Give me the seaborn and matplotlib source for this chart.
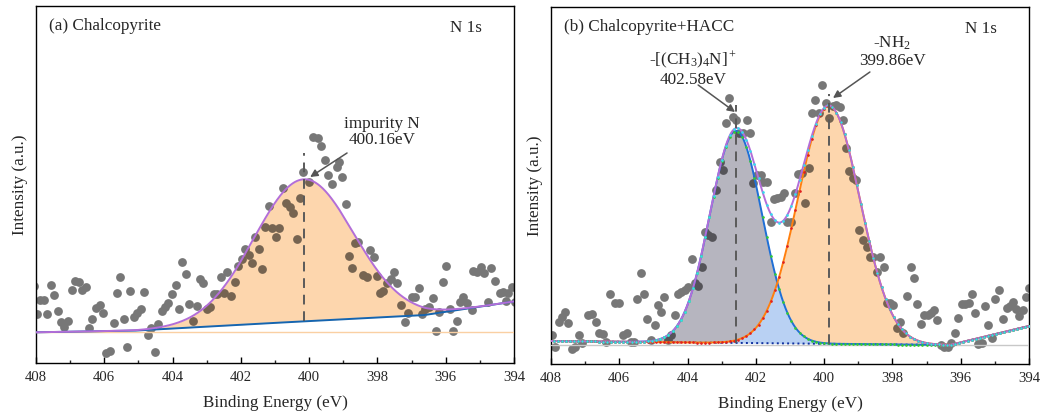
import numpy as np
import pandas as pd
import matplotlib
matplotlib.use("Agg")
import matplotlib.pyplot as plt
from matplotlib.path import Path
from matplotlib.colors import to_rgb
from matplotlib.ticker import MultipleLocator
import seaborn as sns

# ---------------- measured N 1s spectra ----------------
# (a) Chalcopyrite
energy_a = [408.05, 407.98, 407.88, 407.77, 407.69, 407.57, 407.47, 407.37, 407.27, 407.17,
            407.07, 406.96, 406.86, 406.74, 406.64, 406.55, 406.45, 406.35, 406.25, 406.14,
            406.05, 405.95, 405.83, 405.73, 405.64, 405.54, 405.43, 405.33, 405.24, 405.13,
            405.03, 404.93, 404.83, 404.73, 404.63, 404.51, 404.42, 404.32, 404.22, 404.12,
            404.01, 403.91, 403.81, 403.71, 403.62, 403.51, 403.41, 403.29, 403.20, 403.10,
            403.00, 402.89, 402.80, 402.70, 402.59, 402.49, 402.40, 402.29, 402.17, 402.07,
            401.98, 401.88, 401.77, 401.68, 401.58, 401.47, 401.37, 401.28, 401.18, 401.08,
            400.97, 400.87,
            400.76, 400.68, 400.56, 400.46, 400.35, 400.27, 400.17, 399.99, 399.88, 399.73,
            399.66, 399.54, 399.44, 399.34, 399.19, 399.12, 399.05, 398.92, 398.82, 398.75,
            398.66, 398.56, 398.43, 398.31, 398.22, 398.10, 398.02, 397.92, 397.83, 397.71,
            397.61, 397.51, 397.42, 397.32, 397.20, 397.10, 397.00, 396.89, 396.78, 396.69,
            396.60, 396.48, 396.38, 396.28, 396.19, 396.09, 395.99, 395.87, 395.79, 395.68,
            395.58, 395.48, 395.38, 395.24, 395.19, 395.09, 394.97, 394.87, 394.75, 394.67,
            394.56, 394.41, 394.33, 394.23, 394.17, 394.07, 393.97, 393.87]
counts_a = [77.0, 48.7, 63.0, 63.0, 48.7, 78.0, 68.0, 52.3, 41.3, 36.3,
            42.0, 73.0, 82.0, 81.3, 73.0, 76.3, 34.7, 44.0, 54.7, 58.0,
            49.7, 9.7, 12.3, 40.3, 69.7, 86.3, 43.7, 15.7, 72.3, 46.3,
            49.7, 54.0, 71.3, 28.0, 34.7, 11.3, 38.7, 52.0, 55.7, 60.3,
            68.7, 78.0, 53.7, 101.3, 88.7, 59.0, 42.0, 57.3, 84.0, 80.3,
            54.0, 55.7, 69.0, 69.3, 86.3, 69.7, 90.7, 67.3, 81.3, 97.0,
            104.0, 114.0, 108.0, 100.3, 126.3, 114.0, 94.0, 136.3, 157.3, 134.7,
            125.7, 134.7,
            174.7, 159.7, 155.7, 149.7, 124.0, 165.3, 191.3, 181.3, 226.3, 224.7,
            217.0, 203.0, 188.0, 179.0, 196.3, 201.3, 185.7, 159.0, 107.3, 94.7,
            119.7, 121.3, 88.0, 86.3, 113.0, 105.7, 87.3, 69.7, 72.3, 79.7,
            84.0, 91.3, 79.7, 58.0, 41.3, 49.7, 66.3, 66.3, 74.7, 49.0,
            53.7, 56.3, 64.7, 32.3, 51.3, 81.3, 97.0, 53.7, 32.0, 42.0,
            61.3, 66.3, 59.7, 53.0, 92.0, 91.3, 95.7, 89.7, 60.7, 94.7,
            82.3, 69.7, 71.3, 62.3, 69.7, 76.3, 61.3, 88.0]

# (b) Chalcopyrite + HACC
energy_b = [407.98, 407.88, 407.76, 407.69, 407.59, 407.49, 407.39, 407.30, 407.18, 407.08,
            406.91, 406.81, 406.68, 406.58, 406.49, 406.39, 406.27, 406.13, 406.00, 405.88,
            405.78, 405.66, 405.57, 405.49, 405.37, 405.28, 405.18, 405.08, 404.96, 404.88,
            404.79, 404.69, 404.57, 404.49, 404.38, 404.28, 404.18, 404.08, 403.99, 403.88,
            403.78, 403.68, 403.59, 403.49, 403.39, 403.29, 403.17, 403.05, 402.95, 402.87,
            402.78, 402.68, 402.58, 402.48, 402.38, 402.27, 402.17, 402.07, 401.96, 401.86,
            401.78, 401.68, 401.56, 401.47, 401.37, 401.27, 401.17, 401.08, 400.98, 400.86,
            400.76, 400.65, 400.55, 400.45, 400.35, 400.26, 400.14, 400.06, 399.94, 399.85,
            399.75, 399.65, 399.55, 399.46, 399.36, 399.26, 399.16, 399.06, 398.97, 398.87,
            398.75, 398.67, 398.58, 398.46, 398.36, 398.26, 398.17, 398.07, 397.97, 397.87,
            397.78, 397.68, 397.56, 397.46, 397.37, 397.27, 397.17, 397.07, 396.97, 396.88,
            396.78, 396.68, 396.58, 396.49, 396.37, 396.27, 396.16, 396.07, 395.97, 395.87,
            395.77, 395.68, 395.58, 395.48, 395.38, 395.28, 395.19, 395.09, 394.99, 394.88,
            394.76, 394.65, 394.55, 394.48, 394.39, 394.29, 394.19, 394.10, 394.00]
counts_b = [29.0, 17.3, 42.3, 47.3, 52.3, 41.3, 15.0, 17.3, 29.0, 20.7,
            49.0, 50.0, 42.3, 30.7, 30.0, 22.3, 69.7, 60.7, 61.3, 29.0,
            30.7, 22.3, 22.3, 64.7, 91.3, 70.0, 44.7, 24.0, 39.0, 59.0,
            52.3, 67.3, 24.0, 29.0, 49.0, 70.0, 72.3, 74.0, 77.3, 104.7,
            80.7, 78.0, 97.3, 132.3, 129.0, 127.3, 174.0, 202.3, 194.0, 240.7,
            266.3, 247.3, 244.0, 230.7, 230.7, 244.0, 230.7, 180.7, 189.0, 189.0,
            182.3, 182.3, 142.3, 164.7, 165.7, 166.7, 170.7, 142.3, 142.3, 170.7,
            189.7, 190.7, 161.3, 195.7, 250.7, 264.0, 251.3, 279.0, 260.7, 245.7,
            258.0, 259.0, 257.3, 244.0, 215.7, 193.3, 185.7, 184.0, 134.0, 124.0,
            116.7, 106.7, 106.7, 92.3, 106.7, 97.3, 61.3, 60.7, 59.0, 35.7,
            42.3, 30.7, 68.0, 97.3, 85.7, 60.0, 40.0, 49.0, 49.0, 51.3,
            54.0, 44.0, 19.0, 17.3, 17.3, 20.7, 31.3, 45.7, 60.0, 60.0,
            60.7, 69.7, 50.7, 19.7, 20.7, 58.0, 39.0, 25.7, 64.7, 74.0,
            44.7, 55.7, 58.0, 62.3, 54.7, 48.0, 54.0, 67.3, 75.7]

# ---------------- fit results ----------------
# background anchor points
bg_a_energy = [394.0, 396.6, 400.0, 405.0, 408.0]
bg_a_level = [61.5, 48.0, 42.0, 32.5, 30.7]
bg_b_energy = [394.0, 396.3, 402.5, 408.0]
bg_b_level = [38.0, 19.0, 21.0, 23.0]

# Gaussian components: centre (eV), height, FWHM (eV)
peak_a_center, peak_a_height, peak_a_fwhm = 400.16, 142.0, 3.42
peaks_b_center = [402.58, 399.86]
peaks_b_height = [212.0, 238.0]
peaks_b_fwhm = [1.80, 2.15]
peaks_b_label = [r"-[(CH$_3$)$_4$N]$^+$" + "\n402.58eV", r"-NH$_2$" + "\n399.86eV"]

x_ticks = [408, 406, 404, 402, 400, 398, 396, 394]

# ---------------- style ----------------
sns.set_theme(style="white")
plt.rcParams["font.family"] = ["Liberation Serif", "DejaVu Serif"]
plt.rcParams["mathtext.fontset"] = "custom"
plt.rcParams["mathtext.rm"] = "Liberation Serif"
plt.rcParams["mathtext.it"] = "Liberation Serif:italic"

DOT = "#777777"
PEACH = "#FDD6AD"
GREYFILL = "#B6B5BF"
LIGHTBLUE = "#B9D1F3"
PURPLE = "#B36ED8"
DASH = "#5a5a5a"
FS = 12.3


def multiply(c1, c2):
    return tuple(a * b for a, b in zip(to_rgb(c1), to_rgb(c2)))


def gauss(e, c, h, w):
    return h * np.exp(-4 * np.log(2) * (e - c) ** 2 / w ** 2)


def dots(ax, e, y, color, clip=None, z=2):
    df = pd.DataFrame({"Binding Energy (eV)": e, "Intensity": y})
    sns.scatterplot(data=df, x="Binding Energy (eV)", y="Intensity", ax=ax,
                    color=color, s=40, linewidth=0, zorder=z, legend=False)
    coll = ax.collections[-1]
    if clip is not None:
        coll.set_clip_path(clip, ax.transData)


def region(coll):
    return Path.make_compound_path(*coll.get_paths())


def curve(ax, e, y, color, lw=1.3, z=5, ls="-"):
    sns.lineplot(x=e, y=y, ax=ax, color=color, lw=lw, zorder=z, ls=ls,
                 sort=False, estimator=None, legend=False)


def style_axes(ax, title):
    ax.set_xlim(408, 394)
    ax.set_ylim(0, 357)
    ax.set_xticks(x_ticks)
    ax.set_xticklabels([str(t) for t in x_ticks])
    ax.xaxis.set_minor_locator(MultipleLocator(1))
    ax.set_yticks([])
    ax.tick_params(axis="x", which="major", direction="in", length=4.5, width=1.0,
                   pad=6, labelsize=10.6, color="black", bottom=True, top=False)
    ax.tick_params(axis="x", which="minor", direction="in", length=2.5, width=1.0,
                   bottom=True, top=False)
    for s in ax.spines.values():
        s.set_visible(True)
        s.set_color("black")
        s.set_linewidth(1.0)
    ax.set_xlabel("Binding Energy (eV)", fontsize=FS, labelpad=8)
    ax.set_ylabel("Intensity (a.u.)", fontsize=FS, labelpad=6)
    ax.text(0.028, 0.944, title, transform=ax.transAxes, fontsize=FS, va="center", ha="left")
    ax.text(0.90, 0.937, "N 1s", transform=ax.transAxes, fontsize=FS, va="center", ha="center")


fig = plt.figure(figsize=(10.51, 4.19), dpi=100)
ax_a = fig.add_axes([36 / 1051, 1 - 363 / 419, 478 / 1051, 357 / 419])
ax_b = fig.add_axes([551 / 1051, 1 - 364 / 419, 478 / 1051, 357 / 419])

e_fit = np.linspace(394.0, 408.0, 1401)

# ---------------- (a) ----------------
bg_a = np.interp(e_fit, bg_a_energy, bg_a_level)
env_a = bg_a + gauss(e_fit, peak_a_center, peak_a_height, peak_a_fwhm)

dots(ax_a, energy_a, counts_a, DOT)
fill_a = ax_a.fill_between(e_fit, bg_a, env_a, color=PEACH, lw=0, zorder=3)
dots(ax_a, energy_a, counts_a, multiply(DOT, PEACH), clip=region(fill_a), z=4)
ax_a.axhline(bg_a_level[-1], color="#FAD0A3", lw=1.0, zorder=3)
curve(ax_a, e_fit, bg_a, "#1565B0", lw=1.4)
curve(ax_a, e_fit, env_a, PURPLE, lw=1.4, z=6)
ax_a.plot([peak_a_center, peak_a_center],
          [np.interp(peak_a_center, bg_a_energy, bg_a_level), 210],
          color=DASH, lw=1.4, ls=(0, (5, 3.5)), zorder=7)
ax_a.annotate("", xy=(399.97, 186), xytext=(398.89, 210),
              arrowprops=dict(arrowstyle="-|>", color="#555555", lw=1.1,
                              mutation_scale=11, shrinkA=0, shrinkB=0), zorder=8)
ax_a.text(397.87, 231, "impurity N\n400.16eV", fontsize=FS, ha="center", va="center",
          multialignment="center", linespacing=1.05)
style_axes(ax_a, "(a) Chalcopyrite")

# ---------------- (b) ----------------
bg_b = np.interp(e_fit, bg_b_energy, bg_b_level)
g1 = gauss(e_fit, peaks_b_center[0], peaks_b_height[0], peaks_b_fwhm[0])
g2 = gauss(e_fit, peaks_b_center[1], peaks_b_height[1], peaks_b_fwhm[1])
comp1 = bg_b + g1
comp2 = bg_b + g2
low = bg_b + np.minimum(g1, g2)
env_b = bg_b + g1 + g2

dots(ax_b, energy_b, counts_b, DOT)
f_over = ax_b.fill_between(e_fit, bg_b, low, color=LIGHTBLUE, lw=0, zorder=3)
f_grey = ax_b.fill_between(e_fit, low, comp1, where=g1 >= g2, interpolate=True,
                           color=GREYFILL, lw=0, zorder=3)
f_peach = ax_b.fill_between(e_fit, low, comp2, where=g2 >= g1, interpolate=True,
                            color=PEACH, lw=0, zorder=3)
for coll, col in [(f_over, LIGHTBLUE), (f_grey, GREYFILL), (f_peach, PEACH)]:
    dots(ax_b, energy_b, counts_b, multiply(DOT, col), clip=region(coll), z=4)

ax_b.axhline(min(bg_b_level), color="#C8C8C8", lw=1.0, zorder=3)
curve(ax_b, e_fit, bg_b, "#1030A0", lw=1.4, ls=":")
curve(ax_b, e_fit, comp1, "#1F6FD6", lw=1.4)
curve(ax_b, e_fit, comp2, "#FF7F0E", lw=1.4)
curve(ax_b, e_fit, env_b, PURPLE, lw=1.4, z=6)
ax_b.plot(e_fit[::12], comp1[::12], ls="none", marker="o", ms=0.9, color="#33CC33", zorder=7)
ax_b.plot(e_fit[::12], comp2[::12], ls="none", marker="o", ms=0.9, color="#E02020", zorder=7)
ax_b.plot(e_fit[::12], env_b[::12], ls="none", marker="o", ms=0.9, color="#33DDEE", zorder=7)

dash_tops = [259, 270]
for c, t in zip(peaks_b_center, dash_tops):
    ax_b.plot([c, c], [np.interp(c, bg_b_energy, bg_b_level), t],
              color=DASH, lw=1.4, ls=(0, (5, 3.5)), zorder=8)

label_pos = [(403.84, 295), (398.01, 312)]
arrow_from = [(403.69, 279), (398.66, 292)]
arrow_to = [(402.61, 252), (399.74, 266)]
for lab, p, a0, a1 in zip(peaks_b_label, label_pos, arrow_from, arrow_to):
    ax_b.text(p[0], p[1], lab, fontsize=FS, ha="center", va="center",
              multialignment="center", linespacing=1.05)
    ax_b.annotate("", xy=a1, xytext=a0,
                  arrowprops=dict(arrowstyle="-|>", color="#555555", lw=1.1,
                                  mutation_scale=11, shrinkA=0, shrinkB=0), zorder=9)
style_axes(ax_b, "(b) Chalcopyrite+HACC")

fig.savefig("out.png", dpi=100)
